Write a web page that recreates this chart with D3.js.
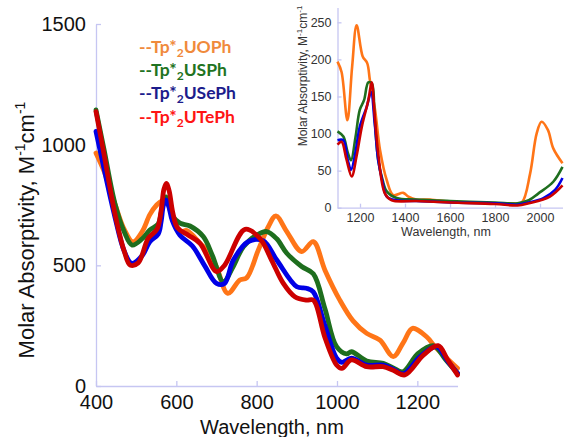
<!DOCTYPE html>
<html>
<head>
<meta charset="utf-8">
<script src="https://cdn.jsdelivr.net/npm/d3@7"></script>
<style>
  body { margin: 0; background: #fff; }
  svg { display: block; font-family: "Liberation Sans", Arial, sans-serif; }
</style>
</head>
<body>
<svg id="chart" width="565" height="437"></svg>
<script>

// ---- data ----
const seriesNames = ["UOPh", "USPh", "USePh", "UTePh"]
const lineColors = ["#ff7517", "#1e6e1e", "#0000e6", "#cc0000"]
const legendColors = ["#f08a3c", "#217321", "#1c1c8c", "#ff1414"]

// main panel, 400-1300 nm
const wlUOPh = [400, 420, 450, 470, 492, 515, 534, 551, 565, 575, 585, 598, 612, 626, 660, 676, 700, 728, 758, 775, 804, 829, 848, 875, 912, 941, 970, 1007, 1040, 1074, 1107, 1140, 1165, 1188, 1223, 1244, 1270, 1300]
const absUOPh = [965, 890, 740, 650, 597, 640, 710, 750, 768, 772, 725, 670, 640, 644, 590, 563, 494, 384, 439, 448, 563, 660, 705, 640, 557, 598, 480, 356, 270, 218, 190, 122, 180, 239, 204, 163, 120, 73]

const wlUSPh = [400, 420, 447, 470, 490, 515, 534, 555, 562, 568, 574, 580, 590, 609, 634, 667, 690, 717, 740, 767, 800, 825, 850, 875, 912, 941, 970, 999, 1024, 1036, 1074, 1115, 1140, 1164, 1202, 1240, 1270, 1300]
const absUSPh = [1144, 980, 757, 640, 584, 610, 646, 672, 715, 770, 784, 765, 705, 675, 663, 619, 540, 432, 490, 577, 625, 640, 610, 550, 495, 465, 320, 163, 133, 142, 104, 94, 75, 59, 135, 167, 110, 53]

const wlUSePh = [400, 420, 447, 470, 489, 515, 534, 555, 562, 568, 574, 581, 590, 609, 640, 670, 700, 720, 742, 779, 816, 850, 900, 924, 941, 970, 999, 1012, 1036, 1074, 1115, 1140, 1165, 1207, 1248, 1275, 1300]
const absUSePh = [1055, 900, 701, 560, 508, 540, 598, 630, 680, 750, 771, 745, 685, 625, 580, 500, 425, 425, 522, 598, 602, 522, 411, 405, 390, 250, 115, 98, 115, 87, 87, 70, 50, 122, 163, 105, 53]

const wlUTePh = [400, 420, 447, 470, 485, 505, 530, 552, 562, 569, 575, 582, 591, 603, 630, 659, 700, 720, 771, 808, 837, 866, 895, 924, 941, 970, 999, 1012, 1036, 1074, 1115, 1140, 1169, 1215, 1252, 1275, 1300]
const absUTePh = [1137, 960, 715, 560, 501, 510, 612, 650, 725, 815, 840, 810, 720, 655, 625, 591, 474, 500, 649, 612, 522, 426, 370, 356, 356, 200, 87, 73, 108, 80, 80, 65, 46, 128, 167, 110, 46]

// inset, 1100-2100 nm
const wlInUOPh = [1100, 1118, 1144, 1165, 1185, 1212, 1232, 1244, 1267, 1289, 1319, 1348, 1392, 1415, 1450, 1511, 1600, 1700, 1800, 1880, 1919, 1956, 1985, 2007, 2035, 2059, 2100]
const absInUOPh = [197, 183, 118, 190, 246, 204, 195, 172, 132, 78, 37, 17, 20, 15, 11, 11, 8, 7, 6, 6, 7, 46, 100, 116, 105, 80, 60]

const wlInUSPh = [1100, 1126, 1145, 1160, 1180, 1199, 1218, 1237, 1252, 1265, 1281, 1300, 1319, 1363, 1450, 1600, 1800, 1900, 1950, 1992, 2059, 2100]
const absInUSPh = [103, 96, 75, 64, 95, 132, 145, 169, 168, 120, 64, 38, 22, 13, 11, 9, 7, 6, 10, 19, 35, 55]

const wlInUSePh = [1100, 1126, 1145, 1160, 1180, 1199, 1230, 1249, 1265, 1281, 1300, 1319, 1363, 1450, 1600, 1800, 1900, 1950, 2015, 2067, 2100]
const absInUSePh = [91, 91, 65, 51, 75, 109, 136, 156, 115, 64, 35, 15, 10, 9, 7, 6, 4, 7, 13, 24, 40]

const wlInUTePh = [1100, 1118, 1140, 1163, 1185, 1208, 1237, 1252, 1265, 1281, 1311, 1341, 1450, 1600, 1800, 1900, 1950, 2044, 2100]
const absInUTePh = [85, 89, 65, 42, 70, 109, 145, 169, 125, 73, 19, 10, 9, 7, 5, 3, 6, 15, 30]

const mainXTicks = [400, 600, 800, 1000, 1200]
const mainYTicks = [0, 500, 1000, 1500]
const insetXTicks = [1200, 1400, 1600, 1800, 2000]
const insetYTicks = [0, 50, 100, 150, 200, 250]

const mainSeries = [
  d3.zip(wlUOPh, absUOPh), d3.zip(wlUSPh, absUSPh),
  d3.zip(wlUSePh, absUSePh), d3.zip(wlUTePh, absUTePh)
]
const insetSeries = [
  d3.zip(wlInUOPh, absInUOPh), d3.zip(wlInUSPh, absInUSPh),
  d3.zip(wlInUSePh, absInUSePh), d3.zip(wlInUTePh, absInUTePh)
]

const axisColor = "#c6c6f2"
const svg = d3.select("#chart")
const fmt = d3.format("d")

// ---- main panel ----
const x = d3.scaleLinear().domain([400, 1300]).range([96, 457.5])
const y = d3.scaleLinear().domain([0, 1500]).range([386, 24])

function styleAxis( g, size, color ){
  g.select(".domain").attr("stroke", axisColor).attr("stroke-width", 1.3)
  g.selectAll(".tick line").attr("stroke", axisColor).attr("stroke-width", 1.3)
  g.selectAll(".tick text").attr("font-size", size).attr("fill", color)
   .attr("font-family", "Liberation Sans, Arial, sans-serif")
}

const line = d3.line()
  .x( d => x(d[0]) )
  .y( d => y(d[1]) )
  .curve( d3.curveCatmullRom.alpha(0.5) )

svg.append("g")
   .attr("transform", "translate(0,386)")
   .call( d3.axisBottom(x).tickValues(mainXTicks).tickFormat(fmt).tickSizeInner(-5).tickSizeOuter(0).tickPadding(9) )
   .call( g => styleAxis(g, 20, "#111") )

svg.append("g")
   .attr("transform", "translate(96,0)")
   .call( d3.axisLeft(y).tickValues(mainYTicks).tickFormat(fmt).tickSizeInner(-5).tickSizeOuter(0).tickPadding(10) )
   .call( g => styleAxis(g, 20, "#111") )

svg.append("g")
   .selectAll("path")
   .data( mainSeries )
   .join("path")
   .attr("d", line)
   .attr("fill", "none")
   .attr("stroke", (d, i) => lineColors[i])
   .attr("stroke-width", 4.8)
   .attr("stroke-linejoin", "round")
   .attr("stroke-linecap", "round")

svg.append("text")
   .attr("x", 272).attr("y", 434)
   .attr("text-anchor", "middle")
   .attr("font-size", 20).attr("fill", "#111")
   .text("Wavelength, nm")

const yTitle = svg.append("text")
   .attr("transform", "translate(34,230) rotate(-90)")
   .attr("text-anchor", "middle")
   .attr("font-size", 22).attr("fill", "#111")
yTitle.append("tspan").text("Molar Absorptivity, M")
yTitle.append("tspan").attr("font-size", 14).attr("dy", -9).text("-1")
yTitle.append("tspan").attr("dy", 9).text("cm")
yTitle.append("tspan").attr("font-size", 14).attr("dy", -9).text("-1")

// ---- legend ----
const legend = svg.append("g")
  .selectAll("text")
  .data( seriesNames )
  .join("text")
  .attr("x", 139)
  .attr("y", (d, i) => 53 + i * 23.2)
  .attr("font-family", "Lato, 'Open Sans', sans-serif")
  .attr("font-weight", 700)
  .attr("font-size", 17.5)
  .attr("fill", (d, i) => legendColors[i])

legend.append("tspan").text("--Tp*")
legend.append("tspan").attr("font-size", 12).attr("dy", 4).text("2")
legend.append("tspan").attr("dy", -4).text( d => "U" + d.slice(1) )

// ---- inset ----
const xi = d3.scaleLinear().domain([1100, 2100]).range([337.5, 562.5])
const yi = d3.scaleLinear().domain([0, 270]).range([207.7, 7.5])

const lineInset = d3.line()
  .x( d => xi(d[0]) )
  .y( d => yi(d[1]) )
  .curve( d3.curveCatmullRom.alpha(0.5) )

svg.append("g")
   .attr("transform", "translate(0,207.7)")
   .call( d3.axisBottom(xi).tickValues(insetXTicks).tickFormat(fmt).tickSizeInner(-4).tickSizeOuter(0).tickPadding(5) )
   .call( g => styleAxis(g, 12.5, "#333") )

svg.append("g")
   .attr("transform", "translate(337.5,0)")
   .call( d3.axisLeft(yi).tickValues(insetYTicks).tickFormat(fmt).tickSizeInner(-4).tickSizeOuter(0).tickPadding(6) )
   .call( g => styleAxis(g, 12.5, "#333") )

svg.append("g")
   .selectAll("path")
   .data( insetSeries )
   .join("path")
   .attr("d", lineInset)
   .attr("fill", "none")
   .attr("stroke", (d, i) => lineColors[i])
   .attr("stroke-width", 2.6)
   .attr("stroke-linejoin", "round")

svg.append("text")
   .attr("x", 446).attr("y", 236)
   .attr("text-anchor", "middle")
   .attr("font-size", 12.5).attr("fill", "#333")
   .text("Wavelength, nm")

const yiTitle = svg.append("text")
   .attr("transform", "translate(307,76) rotate(-90)")
   .attr("text-anchor", "middle")
   .attr("font-size", 12).attr("fill", "#333")
yiTitle.append("tspan").text("Molar Absorptivity, M")
yiTitle.append("tspan").attr("font-size", 8).attr("dy", -5).text("-1")
yiTitle.append("tspan").attr("dy", 5).text("cm")
yiTitle.append("tspan").attr("font-size", 8).attr("dy", -5).text("-1")

</script>
</body>
</html>
